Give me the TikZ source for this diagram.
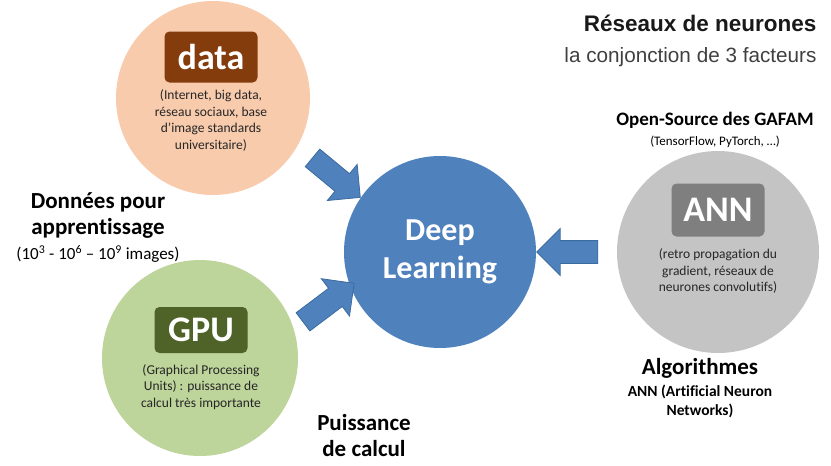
\documentclass[tikz,border=0pt]{standalone}
\usepackage{fontspec}
\setmainfont{Carlito}[Ligatures=NoCommon]
\newfontfamily\arialfont{Liberation Sans}
\usepackage{tikz}
\usetikzlibrary{positioning}
\usetikzlibrary{shapes.arrows}

\definecolor{DLblue}{HTML}{4F81BD}
\definecolor{DLedge}{HTML}{3C6B9F}
\definecolor{Peach}{HTML}{F8CBAD}
\definecolor{DataBrown}{HTML}{843C0C}
\definecolor{GpuGreen}{HTML}{BDD49A}
\definecolor{GpuDark}{HTML}{4F6228}
\definecolor{AnnGray}{HTML}{C4C4C4}
\definecolor{AnnDark}{HTML}{7F7F7F}

\begin{document}
\begin{tikzpicture}[x=1pt, y=-1pt,
    factor/.style={circle, inner sep=0pt, minimum size=#1},
    tag/.style={rounded corners=5pt, inner sep=0pt, minimum width=93pt, text=white, font=\bfseries\fontsize{36}{36}\selectfont},
    desc/.style={align=center, inner sep=0pt, text=black!85, font=\fontsize{13.5}{16.5}\selectfont},
    legend/.style={align=center, inner sep=0pt, font=\bfseries\fontsize{23}{26}\selectfont},
    push/.style={single arrow, fill=DLblue, draw=DLedge, line width=0.8pt, inner xsep=0pt, inner ysep=11pt, single arrow head extend=12pt, minimum height=#1}]
  \useasboundingbox (0,0) rectangle (831,466);

  \node[factor=194pt, fill=Peach] (data) at (213,98) {};
  \node[factor=196pt, fill=GpuGreen] (gpu) at (200,358) {};
  \node[factor=202pt, fill=AnnGray] (ann) at (718,252) {};
  \node[factor=192pt, fill=DLblue, text=white, align=center, font=\bfseries\fontsize{32}{38}\selectfont] (deep) at (440,252) {Deep\\Learning};

  \node[tag, fill=DataBrown, minimum height=51pt] (datatag) at (211,57) {data};
  \node[desc, below=7pt of datatag] (datatext) {(Internet, big data,\\réseau sociaux, base\\d’image standards\\universitaire)};

  \node[tag, fill=GpuDark, minimum height=46pt] (gputag) at (201,330) {GPU};
  \node[desc, below=11pt of gputag] (gputext) {(Graphical Processing\\Units) : puissance de\\calcul très importante};

  \node[tag, fill=AnnDark, minimum height=53pt] (anntag) at (718,210) {ANN};
  \node[desc, below=12pt of anntag] (anntext) {(retro propagation du\\gradient, réseaux de\\neurones convolutifs)};

  \node[push=62pt, rotate=-39.6] (pushdata) at (332,174) {};
  \node[push=64pt, rotate=37] (pushgpu) at (324,306) {};
  \node[push=61pt, rotate=180] (pushann) at (573,252) {};

  \node[font=\arialfont\bfseries\fontsize{22.5}{26}\selectfont, text=black!90, anchor=east] (title) at (820,23) {Réseaux de neurones};
  \node[font=\arialfont\fontsize{20.7}{24}\selectfont, text=black!75, anchor=east] (subtitle) at (820,57) {la conjonction de 3 facteurs};

  \node[legend, font=\bfseries\fontsize{19}{22}\selectfont] (gafam) at (715,120) {Open-Source des GAFAM};
  \node[font=\fontsize{13}{15}\selectfont, below=4pt of gafam] (frameworks) {(TensorFlow, PyTorch, …)};

  \node[legend] (donnees) at (98,216) {Données pour\\apprentissage};
  \node[font=\fontsize{17}{20}\selectfont, below=3pt of donnees] (volumes) {(10\textsuperscript{3} - 10\textsuperscript{6} – 10\textsuperscript{9} images)};

  \node[legend] (puissance) at (364,436) {Puissance\\de calcul};
  \node[legend] (algo) at (700,368) {Algorithmes};
  \node[font=\bfseries\fontsize{15.5}{19}\selectfont, align=center, below=3pt of algo] (annlong) {ANN (Artificial Neuron\\Networks)};
\end{tikzpicture}
\end{document}
